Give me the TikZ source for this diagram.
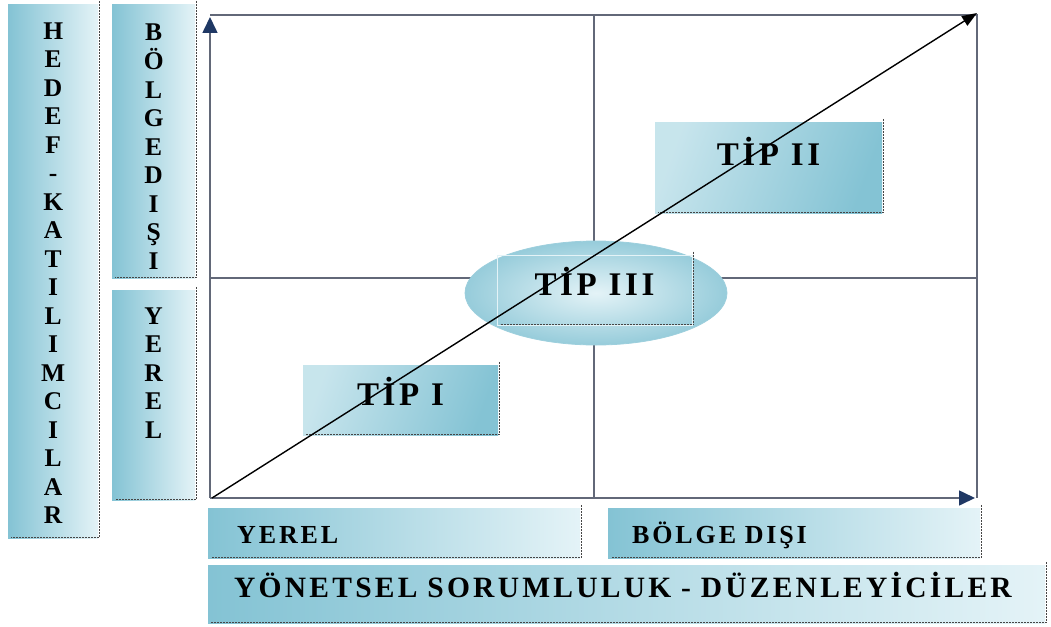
\documentclass[tikz,border=0pt]{standalone}
\usepackage{fontspec}
\setmainfont{Liberation Serif}
\newfontfamily\spacedfont[LetterSpace=11]{Liberation Serif}
\usetikzlibrary{arrows.meta}
\usetikzlibrary{shapes.geometric}
\definecolor{boxdark}{RGB}{132,195,212}
\definecolor{boxlight}{RGB}{228,243,247}
\definecolor{framegray}{RGB}{98,104,120}
\definecolor{axisnavy}{RGB}{31,56,100}
\definecolor{shadowgray}{RGB}{70,70,70}
\tikzset{
  glass/.style={left color=boxdark, right color=boxlight, inner sep=0pt},
  glassr/.style={inner color=boxlight, outer color=boxdark!85, inner sep=0pt},
  glasst/.style={left color=boxlight!70!boxdark, right color=boxdark, shading angle=70, inner sep=0pt},
  shadowline/.style={shadowgray, line width=1.2pt, dash pattern=on 2pt off 1pt},
  frameline/.style={framegray, line width=1.6pt},
  axisline/.style={framegray, line width=1.6pt, -{Triangle[length=16pt,width=15pt,color=axisnavy]}},
  diagline/.style={black, line width=1.4pt, -{Triangle[length=15pt,width=11pt]}},
  columnlabel/.style={glass, anchor=north west, font=\bfseries\fontsize{25.5}{28.5}\selectfont},
  rowlabel/.style={glass, anchor=north west, inner ysep=0pt, align=left},
  tiplabel/.style={glasst, font=\spacedfont\bfseries\fontsize{33}{36}\selectfont},
}

\begin{document}
\begin{tikzpicture}[x=1pt,y=1pt,yscale=-1,xscale=1]
\useasboundingbox (0,0) rectangle (1051,626);

%Coordinates of the frame
\coordinate (origin) at (210,498);
\coordinate (ytop) at (210,17);
\coordinate (corner) at (977,15);
\coordinate (xend) at (977,498);
\coordinate (midtop) at (594,15);
\coordinate (midbot) at (594,498);
\coordinate (midleft) at (210,278);
\coordinate (midright) at (977,278);

%Frame and quadrant lines
\draw [frameline] (ytop |- corner) -- (corner) -- (xend) ;
\draw [frameline, line width=1.3pt] (midtop) -- (midbot) ;
\draw [frameline, line width=1.3pt] (midleft) -- (midright) ;
%Axes
\draw [axisline] (origin) -- (ytop) ;
\draw [axisline] (origin) -- ([xshift=-2pt]xend) ;

%Vertical labels
\node [columnlabel, minimum width=90pt, text height=35pt, text depth=499pt] (hedef) at (8,4)
  {\begin{tabular}[t]{@{}c@{}}H\\E\\D\\E\\F\\-\\K\\A\\T\\I\\L\\I\\M\\C\\I\\L\\A\\R\end{tabular}};
\node [columnlabel, minimum width=83pt, text height=36pt, text depth=238pt] (bolgedisiv) at (112,4)
  {\begin{tabular}[t]{@{}c@{}}B\\Ö\\L\\G\\E\\D\\I\\Ş\\I\end{tabular}};
\node [columnlabel, minimum width=83pt, text height=34pt, text depth=176pt] (yerelv) at (112,290)
  {\begin{tabular}[t]{@{}c@{}}Y\\E\\R\\E\\L\end{tabular}};

%Horizontal labels
\node [rowlabel, inner xsep=29pt, text width=314pt, text height=35pt, text depth=15pt,
  font=\spacedfont\bfseries\fontsize{26}{28}\selectfont] (yerelh) at (208,508) {YEREL};
\node [rowlabel, inner xsep=24pt, text width=324pt, text height=35pt, text depth=15pt,
  font=\spacedfont\bfseries\fontsize{26}{28}\selectfont] (bolgedisih) at (608,508) {BÖLGE DIŞI};
\node [rowlabel, inner xsep=26pt, text width=785pt, text height=32pt, text depth=26pt,
  font=\spacedfont\bfseries\fontsize{29.5}{31}\selectfont] (yonetsel) at (208,565) {\mbox{YÖNETSEL SORUMLULUK - DÜZENLEYİCİLER}};

%Type boxes
\node [tiplabel, minimum width=195pt, text height=40pt, text depth=30pt] (tip1) at (400.5,400) {TİP I};
\node [tiplabel, minimum width=227pt, text height=43pt, text depth=48pt] (tip2) at (768.5,167.5) {TİP II};
\node [ellipse, glassr, draw=boxdark!80, line width=0.8pt, minimum width=262pt, minimum height=104pt] (tip3oval) at (596,293) {};
\node [draw=boxlight, line width=1pt, inner sep=0pt, font=\spacedfont\bfseries\fontsize{33}{36}\selectfont,
  minimum width=195pt, text height=40pt, text depth=30pt] (tip3) at (594.5,290) {TİP III};

%Shadows on right and bottom edges
\foreach \b in {hedef,bolgedisiv,yerelv,yerelh,bolgedisih,yonetsel,tip1,tip2,tip3}
  \draw [shadowline] ([xshift=1pt,yshift=-3pt]\b.north east) -- ([xshift=1pt,yshift=-1pt]\b.south east) -- ([xshift=3pt,yshift=-1pt]\b.south west) ;

%Diagonal arrow
\draw [diagline] ([xshift=2pt]origin) -- ([yshift=-2pt]corner) ;

\end{tikzpicture}
\end{document}
